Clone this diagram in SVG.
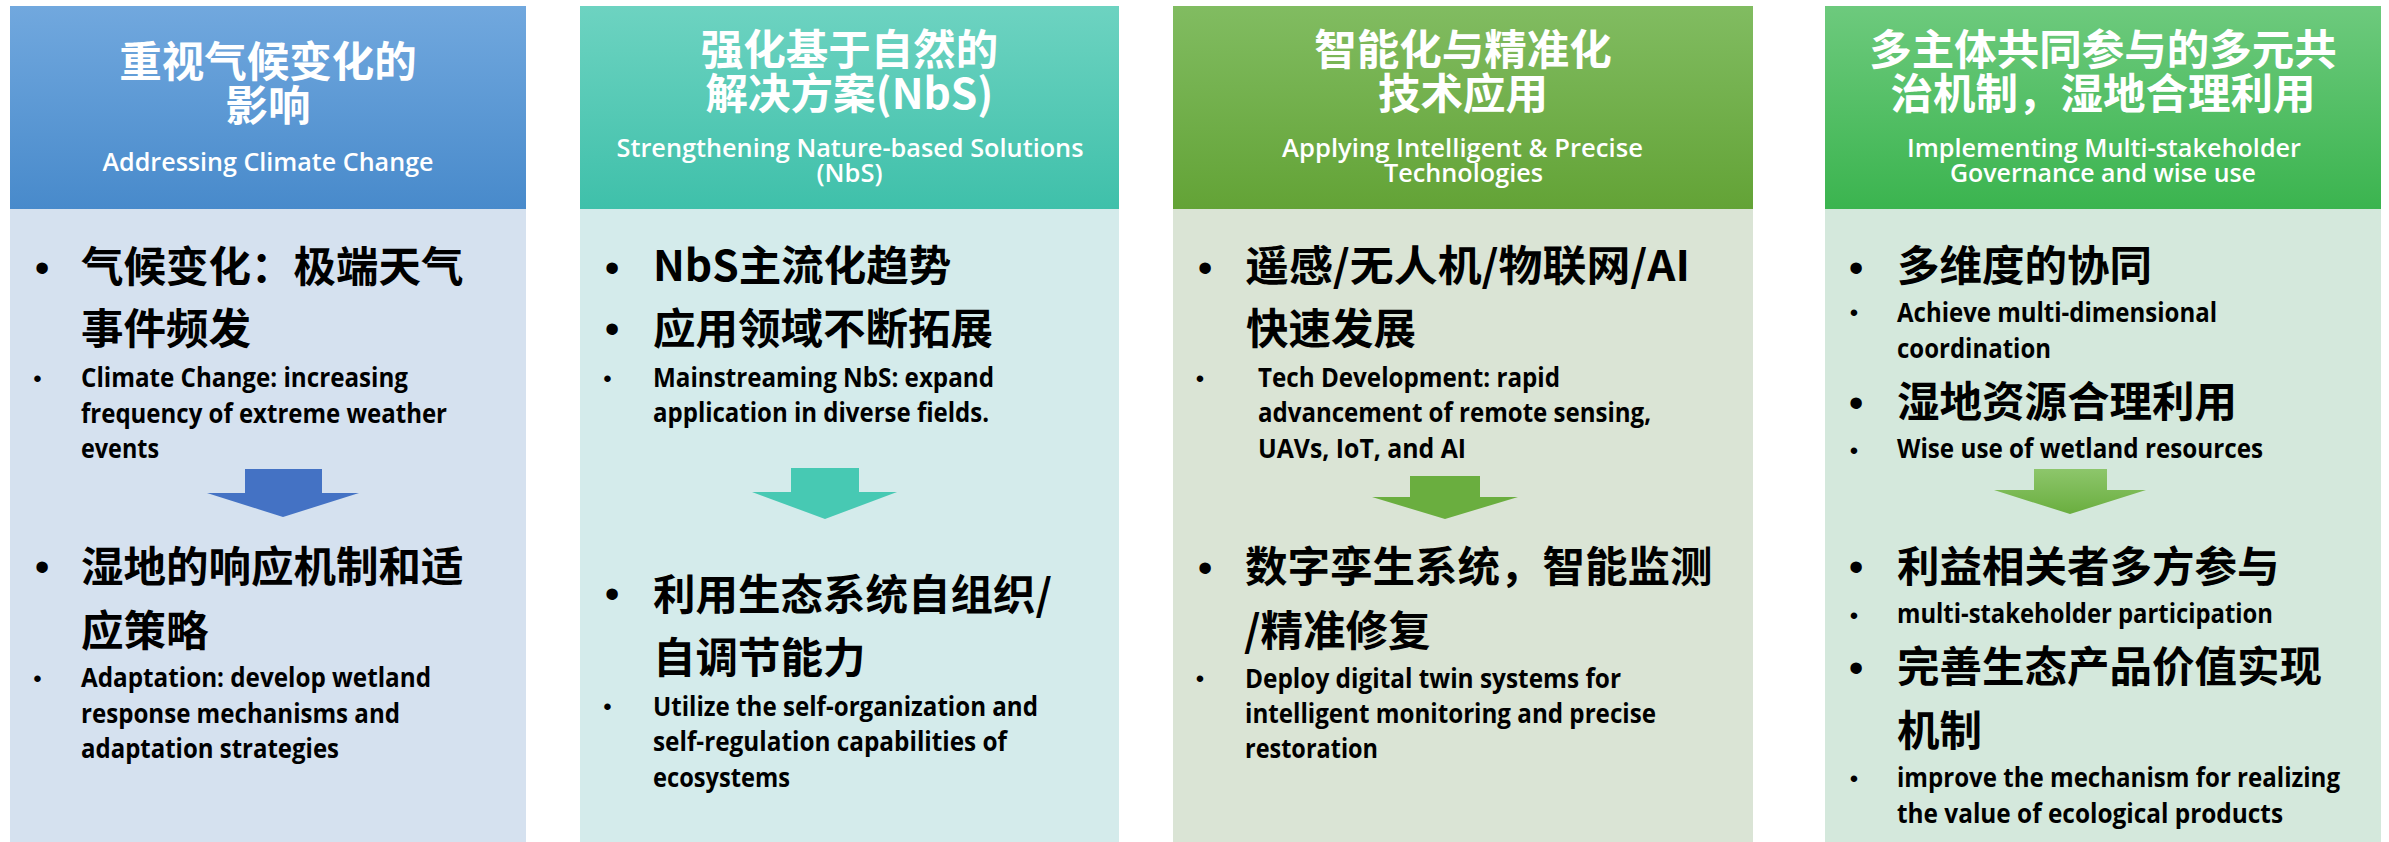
<svg xmlns="http://www.w3.org/2000/svg" width="2389" height="842" viewBox="0 0 2389 842">
<defs>
<linearGradient id="g1" x1="0" y1="0" x2="0" y2="1"><stop offset="0" stop-color="#71a8de"/><stop offset="1" stop-color="#488acb"/></linearGradient>
<linearGradient id="g2" x1="0" y1="0" x2="0" y2="1"><stop offset="0" stop-color="#6dd3c1"/><stop offset="1" stop-color="#3fc0aa"/></linearGradient>
<linearGradient id="g3" x1="0" y1="0" x2="0" y2="1"><stop offset="0" stop-color="#81bc61"/><stop offset="1" stop-color="#63a336"/></linearGradient>
<linearGradient id="g4" x1="0" y1="0" x2="0" y2="1"><stop offset="0" stop-color="#6dca7d"/><stop offset="1" stop-color="#3bb44f"/></linearGradient>
<linearGradient id="ga4" x1="0" y1="0" x2="0" y2="1"><stop offset="0" stop-color="#8dc66b"/><stop offset="1" stop-color="#6aae3f"/></linearGradient>
<style>
.zh{font-family:'Noto Sans CJK SC',sans-serif;font-weight:700;font-size:42.5px;fill:#000}
.hz{font-family:'Noto Sans CJK SC',sans-serif;font-weight:700;font-size:42.5px;fill:#fff;text-anchor:middle}
.he{font-family:'Open Sans','Noto Sans',sans-serif;font-weight:600;font-size:25px;fill:#fff;text-anchor:middle}
.en{font-family:'Open Sans','Noto Sans',sans-serif;font-weight:700;font-size:26px;fill:#000}
.bb{font-family:'Liberation Sans',sans-serif;font-size:42px;fill:#000;text-anchor:middle}
.sb{font-family:'Liberation Sans',sans-serif;font-size:24px;fill:#000;text-anchor:middle}
</style>
</defs>
<rect width="2389" height="842" fill="#fff"/>

<g id="panel1">
<rect x="10" y="6" width="516" height="203" fill="url(#g1)"/>
<rect x="10" y="209" width="516" height="633" fill="#d5e1ef"/>
<text class="hz" x="268" y="77">重视气候变化的</text>
<text class="hz" x="268" y="121">影响</text>
<text class="he" x="268" y="171" textLength="331" lengthAdjust="spacingAndGlyphs">Addressing Climate Change</text>
<text class="bb" x="42" y="282">•</text>
<text class="zh" x="81" y="282">气候变化：极端天气</text>
<text class="zh" x="81" y="344">事件频发</text>
<text class="sb" x="37.5" y="387">•</text>
<text class="en" x="81" y="387" textLength="327" lengthAdjust="spacingAndGlyphs">Climate Change: increasing</text>
<text class="en" x="81" y="422.5" textLength="366" lengthAdjust="spacingAndGlyphs">frequency of extreme weather</text>
<text class="en" x="81" y="458" textLength="78" lengthAdjust="spacingAndGlyphs">events</text>
<text class="bb" x="42" y="581">•</text>
<text class="zh" x="81" y="582">湿地的响应机制和适</text>
<text class="zh" x="81" y="646">应策略</text>
<text class="sb" x="37.5" y="687">•</text>
<text class="en" x="81" y="687" textLength="350" lengthAdjust="spacingAndGlyphs">Adaptation: develop wetland</text>
<text class="en" x="81" y="723" textLength="319" lengthAdjust="spacingAndGlyphs">response mechanisms and</text>
<text class="en" x="81" y="758" textLength="258" lengthAdjust="spacingAndGlyphs">adaptation strategies</text>
</g>

<g id="panel2">
<rect x="580" y="6" width="539" height="203" fill="url(#g2)"/>
<rect x="580" y="209" width="539" height="633" fill="#d4ebeb"/>
<text class="hz" x="849.5" y="65">强化基于自然的</text>
<text class="hz" x="849.5" y="109">解决方案(NbS)</text>
<text class="he" x="850" y="157" textLength="467" lengthAdjust="spacingAndGlyphs">Strengthening Nature-based Solutions</text>
<text class="he" x="849.5" y="182" textLength="66" lengthAdjust="spacingAndGlyphs">(NbS)</text>
<text class="bb" x="612" y="282">•</text>
<text class="zh" x="653" y="281">NbS主流化趋势</text>
<text class="bb" x="612" y="343">•</text>
<text class="zh" x="653" y="344">应用领域不断拓展</text>
<text class="sb" x="607.5" y="387">•</text>
<text class="en" x="653" y="387" textLength="341" lengthAdjust="spacingAndGlyphs">Mainstreaming NbS: expand</text>
<text class="en" x="653" y="422" textLength="336" lengthAdjust="spacingAndGlyphs">application in diverse fields.</text>
<text class="bb" x="612" y="608">•</text>
<text class="zh" x="653" y="610">利用生态系统自组织/</text>
<text class="zh" x="653" y="673">自调节能力</text>
<text class="sb" x="607.5" y="715">•</text>
<text class="en" x="653" y="716" textLength="385" lengthAdjust="spacingAndGlyphs">Utilize the self-organization and</text>
<text class="en" x="653" y="751" textLength="354" lengthAdjust="spacingAndGlyphs">self-regulation capabilities of</text>
<text class="en" x="653" y="787" textLength="137" lengthAdjust="spacingAndGlyphs">ecosystems</text>
</g>

<g id="panel3">
<rect x="1173" y="6" width="580" height="203" fill="url(#g3)"/>
<rect x="1173" y="209" width="580" height="633" fill="#dae4d5"/>
<text class="hz" x="1463" y="65">智能化与精准化</text>
<text class="hz" x="1463" y="109">技术应用</text>
<text class="he" x="1462.5" y="157" textLength="361" lengthAdjust="spacingAndGlyphs">Applying Intelligent &amp; Precise</text>
<text class="he" x="1463.5" y="182" textLength="159" lengthAdjust="spacingAndGlyphs">Technologies</text>
<text class="bb" x="1205" y="282">•</text>
<text class="zh" x="1245" y="281" textLength="445" lengthAdjust="spacingAndGlyphs">遥感/无人机/物联网/AI</text>
<text class="zh" x="1246" y="344">快速发展</text>
<text class="sb" x="1200" y="387">•</text>
<text class="en" x="1258" y="387" textLength="302" lengthAdjust="spacingAndGlyphs">Tech Development: rapid</text>
<text class="en" x="1258" y="422" textLength="393" lengthAdjust="spacingAndGlyphs">advancement of remote sensing,</text>
<text class="en" x="1258" y="458" textLength="208" lengthAdjust="spacingAndGlyphs">UAVs, IoT, and AI</text>
<text class="bb" x="1205" y="582">•</text>
<text class="zh" x="1245" y="582">数字孪生系统，智能监测</text>
<text class="zh" x="1244" y="646">/精准修复</text>
<text class="sb" x="1200" y="687">•</text>
<text class="en" x="1245" y="688" textLength="376" lengthAdjust="spacingAndGlyphs">Deploy digital twin systems for</text>
<text class="en" x="1245" y="723" textLength="411" lengthAdjust="spacingAndGlyphs">intelligent monitoring and precise</text>
<text class="en" x="1245" y="758" textLength="133" lengthAdjust="spacingAndGlyphs">restoration</text>
</g>

<g id="panel4">
<rect x="1825" y="6" width="556" height="203" fill="url(#g4)"/>
<rect x="1825" y="209" width="556" height="633" fill="#d4e8dc"/>
<text class="hz" x="2103" y="65">多主体共同参与的多元共</text>
<text class="hz" x="2103" y="109">治机制，湿地合理利用</text>
<text class="he" x="2104" y="157" textLength="394" lengthAdjust="spacingAndGlyphs">Implementing Multi-stakeholder</text>
<text class="he" x="2103" y="182" textLength="306" lengthAdjust="spacingAndGlyphs">Governance and wise use</text>
<text class="bb" x="1856" y="282">•</text>
<text class="zh" x="1897" y="281">多维度的协同</text>
<text class="sb" x="1854" y="321">•</text>
<text class="en" x="1897" y="322" textLength="320" lengthAdjust="spacingAndGlyphs">Achieve multi-dimensional</text>
<text class="en" x="1897" y="358" textLength="154" lengthAdjust="spacingAndGlyphs">coordination</text>
<text class="bb" x="1856" y="417">•</text>
<text class="zh" x="1897" y="417">湿地资源合理利用</text>
<text class="sb" x="1854" y="459">•</text>
<text class="en" x="1897" y="458" textLength="366" lengthAdjust="spacingAndGlyphs">Wise use of wetland resources</text>
<text class="bb" x="1856" y="581">•</text>
<text class="zh" x="1897" y="582">利益相关者多方参与</text>
<text class="sb" x="1854" y="624">•</text>
<text class="en" x="1897" y="623" textLength="376" lengthAdjust="spacingAndGlyphs">multi-stakeholder participation</text>
<text class="bb" x="1856" y="682">•</text>
<text class="zh" x="1897" y="682">完善生态产品价值实现</text>
<text class="zh" x="1897" y="746">机制</text>
<text class="sb" x="1854" y="787">•</text>
<text class="en" x="1897" y="787" textLength="443" lengthAdjust="spacingAndGlyphs">improve the mechanism for realizing</text>
<text class="en" x="1897" y="823" textLength="386" lengthAdjust="spacingAndGlyphs">the value of ecological products</text>
</g>

<g id="connectors">
<polygon points="245,469 322,469 322,493 359,493 283,517 207,493 245,493" fill="#4472c4"/>
<polygon points="791,468 859,468 859,492 897,492 825,519 752,492 791,492" fill="#47c9b3"/>
<polygon points="1410,476 1480,476 1480,497 1518,497 1445,519 1372,497 1410,497" fill="#6aae3f"/>
<polygon points="2034,469 2107,469 2107,490 2146,490 2070,514 1994,490 2034,490" fill="url(#ga4)"/>
</g>
</svg>
